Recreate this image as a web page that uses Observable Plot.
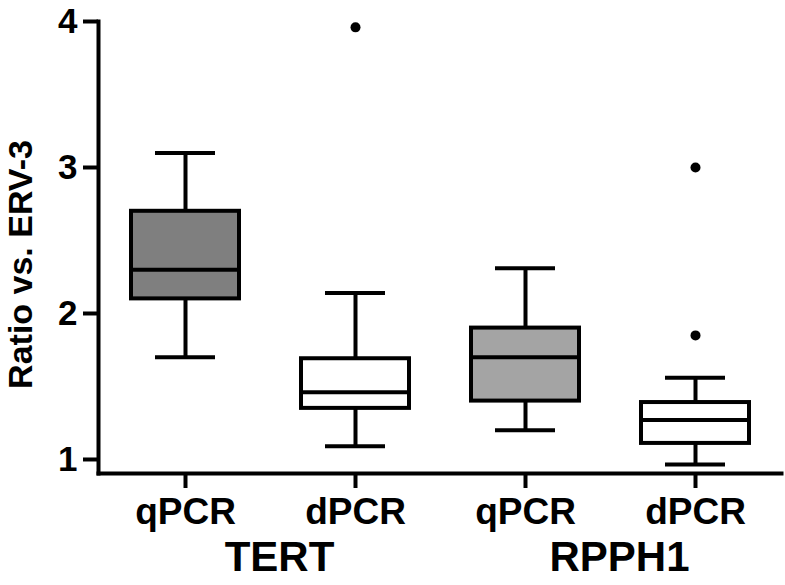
<!DOCTYPE html>
<html>
<head>
<meta charset="utf-8">
<script src="https://cdn.jsdelivr.net/npm/d3@7"></script>
<script src="https://cdn.jsdelivr.net/npm/@observablehq/plot@0.6"></script>
<style>
  html, body { margin: 0; padding: 0; background: #fff; }
</style>
</head>
<body>
<div id="chart"></div>
<script>
// ---- data ----
const categories = ["TERT qPCR", "TERT dPCR", "RPPH1 qPCR", "RPPH1 dPCR"];
const methods = ["qPCR", "dPCR", "qPCR", "dPCR"];
const genes = ["TERT", "RPPH1"];
const geneFirstCategory = ["TERT qPCR", "RPPH1 qPCR"];
const lowWhisker = [1.70, 1.09, 1.20, 0.966];
const q1 = [2.10, 1.35, 1.40, 1.11];
const median = [2.30, 1.46, 1.70, 1.27];
const q3 = [2.70, 1.69, 1.90, 1.39];
const highWhisker = [3.10, 2.14, 2.31, 1.56];
const boxFills = ["#7f7f7f", "#ffffff", "#a4a4a4", "#ffffff"];
const outlierCategory = ["TERT dPCR", "RPPH1 dPCR", "RPPH1 dPCR"];
const outlierValue = [3.96, 3.00, 1.85];
const yTicks = [1, 2, 3, 4];
const yLabel = "Ratio vs. ERV-3";

// ---- tables built from the arrays ----
const boxes = categories.map((c, i) => ({
  cat: c, method: methods[i], lo: lowWhisker[i], q1: q1[i], med: median[i],
  q3: q3[i], hi: highWhisker[i], fill: boxFills[i]
}));
const outliers = outlierCategory.map((c, i) => ({cat: c, v: outlierValue[i]}));
const groups = genes.map((g, i) => ({gene: g, cat: geneFirstCategory[i]}));
const methodOf = Object.fromEntries(categories.map((c, i) => [c, methods[i]]));

const font = "'Liberation Sans', Arial, Helvetica, sans-serif";

const chart = Plot.plot({
  width: 785,
  height: 585,
  marginLeft: 98,
  marginRight: 4,
  marginTop: 21,
  marginBottom: 112,
  style: {fontFamily: font, fontWeight: "bold", fontSize: "34px", color: "#000", background: "#fff"},
  x: {domain: categories, paddingInner: 0.33, paddingOuter: 0.165, label: null},
  y: {domain: [0.904, 4], label: null},
  marks: [
    // whiskers
    Plot.ruleX(boxes, {x: "cat", y1: "lo", y2: "hi", stroke: "#000", strokeWidth: 4}),
    Plot.tickY(boxes, {x: "cat", y: "lo", stroke: "#000", strokeWidth: 4, insetLeft: 27, insetRight: 27}),
    Plot.tickY(boxes, {x: "cat", y: "hi", stroke: "#000", strokeWidth: 4, insetLeft: 27, insetRight: 27}),
    // boxes
    Plot.barY(boxes, {x: "cat", y1: "q1", y2: "q3", fill: "fill", stroke: "#000", strokeWidth: 4, insetLeft: 3, insetRight: 3}),
    Plot.tickY(boxes, {x: "cat", y: "med", stroke: "#000", strokeWidth: 4, insetLeft: 3, insetRight: 3}),
    // outliers
    Plot.dot(outliers, {x: "cat", y: "v", r: 5, fill: "#000", stroke: null}),
    // axes
    Plot.frame({anchor: "left", strokeWidth: 4, strokeLinecap: "square"}),
    Plot.frame({anchor: "bottom", strokeWidth: 4, strokeLinecap: "square"}),
    Plot.axisY({ticks: yTicks, tickFormat: d => String(d), tickSize: 15, tickPadding: 6, strokeWidth: 4, fontSize: 35, fontWeight: "bold", label: null}),
    Plot.axisX({tickFormat: d => methodOf[d], tickSize: 15, tickPadding: 9, strokeWidth: 4, fontSize: 37, fontWeight: "bold", label: null}),
    // group labels
    Plot.text(groups, {x: "cat", text: "gene", frameAnchor: "bottom", lineAnchor: "top", dx: 94, dy: 68, fontSize: 42, fontWeight: "bold", fill: "#000"}),
    // y label
    Plot.text([yLabel], {frameAnchor: "left", textAnchor: "middle", rotate: -90, dx: -77, dy: 17, lineAnchor: "middle", fontSize: 34, fontWeight: "bold", fill: "#000"})
  ]
});
document.getElementById("chart").appendChild(chart);
</script>
</body>
</html>
